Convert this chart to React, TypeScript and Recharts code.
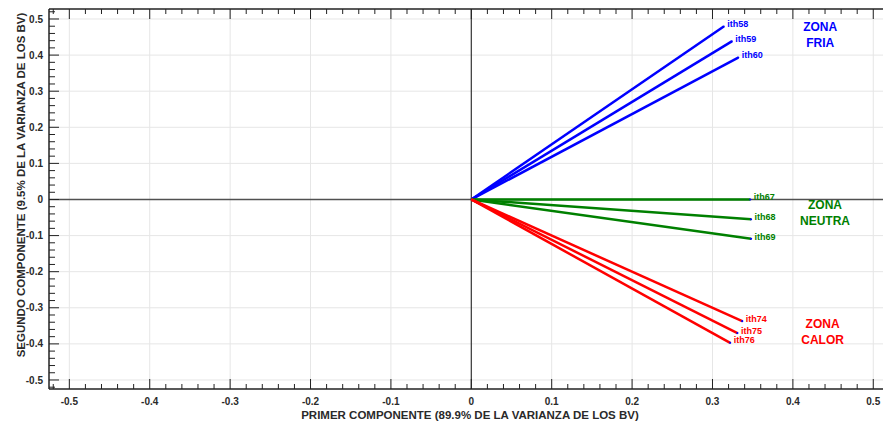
import React from "react";
import {
  ComposedChart,
  Line,
  Scatter,
  XAxis,
  YAxis,
  ReferenceLine,
} from "recharts";

// ---- data ----
const vectorNames = ["ith58", "ith59", "ith60", "ith67", "ith68", "ith69", "ith74", "ith75", "ith76"];
const pc1 = [0.314, 0.324, 0.332, 0.347, 0.348, 0.348, 0.337, 0.331, 0.322];
const pc2 = [0.479, 0.438, 0.393, 0.0, -0.055, -0.109, -0.337, -0.37, -0.397];
const vectorZone = [0, 0, 0, 1, 1, 1, 2, 2, 2];

const zoneLine1 = ["ZONA", "ZONA", "ZONA"];
const zoneLine2 = ["FRIA", "NEUTRA", "CALOR"];
const zoneX = [0.434, 0.44, 0.437];
const zoneY = [0.456, -0.035, -0.365];
const zoneColors = ["#0000FF", "#008000", "#FF0000"];

const majorTicks = [-0.5, -0.4, -0.3, -0.2, -0.1, 0, 0.1, 0.2, 0.3, 0.4, 0.5];
const xMinorTicks: number[] = [];
for (let i = -26; i <= 25; i++) xMinorTicks.push(Math.round(i * 2) / 100);
const yMinorTicks: number[] = [];
for (let i = -26; i <= 26; i++) yMinorTicks.push(Math.round(i * 2) / 100);

const xTitle = "PRIMER COMPONENTE (89.9% DE LA VARIANZA DE LOS BV)";
const yTitle = "SEGUNDO COMPONENTE (9.5% DE LA VARIANZA DE LOS BV)";

const FONT = "'Liberation Sans', Arial, Helvetica, sans-serif";
const AXIS = "#222";

const isMajor = (v: number) => Math.abs(v * 10 - Math.round(v * 10)) < 1e-6;
const fmt = (v: number) => (Math.abs(v) < 1e-9 ? "0" : v.toFixed(1));

const BottomTick = (p: any) => {
  const { x, y, payload } = p;
  const v = payload.value;
  const major = isMajor(v);
  return (
    <g>
      <line x1={x} x2={x} y1={y} y2={y - (major ? 10 : 5)} stroke={AXIS} strokeWidth={1} />
      {major && (
        <text x={x} y={y + 15.5} textAnchor="middle" fontSize={10} fontWeight="bold" fontFamily={FONT} fill="#2a2a2a">
          {fmt(v)}
        </text>
      )}
    </g>
  );
};

const TopTick = (p: any) => {
  const { x, y, payload } = p;
  const v = payload.value;
  const major = isMajor(v);
  return <line x1={x} x2={x} y1={y} y2={y + (major ? 10 : 5)} stroke={AXIS} strokeWidth={1} />;
};

const LeftTick = (p: any) => {
  const { x, y, payload } = p;
  const v = payload.value;
  const major = isMajor(v);
  return (
    <g>
      <line x1={x} x2={x + (major ? 10 : 6)} y1={y} y2={y} stroke={AXIS} strokeWidth={1} />
      {major && (
        <text x={x - 6} y={y + 3.6} textAnchor="end" fontSize={10} fontWeight="bold" fontFamily={FONT} fill="#2a2a2a">
          {fmt(v)}
        </text>
      )}
    </g>
  );
};

const makeDot = (name: string, color: string) => (props: any) => {
  const { cx, cy, index } = props;
  if (index !== 1 || cx == null) return <g key={`d${index}`} />;
  return (
    <g key={`d${index}`}>
      <circle cx={cx} cy={cy} r={1.1} fill="#0000FF" />
      <text x={cx + 3.5} y={cy + 0.7} fontSize={9} fontWeight="bold" fontFamily={FONT} fill={color}>
        {name}
      </text>
    </g>
  );
};

const ZoneShape = (props: any) => {
  const { cx, cy, payload } = props;
  return (
    <g>
      <text x={cx} y={cy - 3.5} textAnchor="middle" fontSize={12} fontWeight="bold" fontFamily={FONT} fill={payload.color}>
        {payload.l1}
      </text>
      <text x={cx} y={cy + 12.5} textAnchor="middle" fontSize={12} fontWeight="bold" fontFamily={FONT} fill={payload.color}>
        {payload.l2}
      </text>
    </g>
  );
};

const zoneData = zoneLine1.map((l1, i) => ({ x: zoneX[i], y: zoneY[i], l1, l2: zoneLine2[i], color: zoneColors[i] }));

export default function App() {
  return (
    <div style={{ position: "absolute", left: 0, top: 0, width: 883, height: 423, background: "#fff" }}>
      <ComposedChart width={883} height={423} margin={{ top: 0, right: 0, bottom: 0, left: 0 }}>
        <XAxis
          xAxisId="b"
          type="number"
          dataKey="x"
          orientation="bottom"
          domain={[-0.5253, 0.5121]}
          allowDataOverflow
          ticks={xMinorTicks}
          interval={0}
          tickSize={0}
          tickMargin={0}
          tick={<BottomTick />}
          height={34}
          axisLine={{ stroke: AXIS, strokeWidth: 1.5 }}
          label={(lp: any) => {
            const vb = lp.viewBox || {};
            return (
              <text
                x={vb.x + vb.width / 2 + 4}
                y={vb.y + 29.5}
                textAnchor="middle"
                fontSize={11.5}
                fontWeight="bold"
                fontFamily={FONT}
                fill="#2a2a2a"
              >
                {xTitle}
              </text>
            );
          }}
        />
        <XAxis
          xAxisId="t"
          type="number"
          dataKey="x"
          orientation="top"
          domain={[-0.5253, 0.5121]}
          allowDataOverflow
          ticks={xMinorTicks}
          interval={0}
          tickSize={0}
          tickMargin={0}
          tick={<TopTick />}
          height={9}
          axisLine={{ stroke: AXIS, strokeWidth: 1.5 }}
        />
        <YAxis
          yAxisId="l"
          type="number"
          dataKey="y"
          domain={[-0.525, 0.5277]}
          allowDataOverflow
          ticks={yMinorTicks}
          interval={0}
          tickSize={0}
          tickMargin={0}
          tick={<LeftTick />}
          width={49}
          axisLine={{ stroke: AXIS, strokeWidth: 1.5 }}
          label={() => {
            const cx = 25;
            const cy = 185;
            return (
              <text
                x={cx}
                y={cy}
                transform={`rotate(-90, ${cx}, ${cy})`}
                textAnchor="middle"
                fontSize={11.5}
                fontWeight="bold"
                fontFamily={FONT}
                fill="#2a2a2a"
              >
                {yTitle}
              </text>
            );
          }}
        />
        {majorTicks
          .filter((v) => v !== 0)
          .map((v) => (
            <ReferenceLine key={`gx${v}`} xAxisId="b" yAxisId="l" x={v} stroke="#e6e6e6" strokeWidth={1} />
          ))}
        {majorTicks
          .filter((v) => v !== 0)
          .map((v) => (
            <ReferenceLine key={`gy${v}`} xAxisId="b" yAxisId="l" y={v} stroke="#e6e6e6" strokeWidth={1} />
          ))}
        <ReferenceLine xAxisId="b" yAxisId="l" y={0} stroke="#505050" strokeWidth={1.6} />
        <ReferenceLine xAxisId="b" yAxisId="l" x={0} stroke="#333" strokeWidth={1.2} />
        {vectorNames.map((name, i) => {
          const color = zoneColors[vectorZone[i]];
          return (
            <Line
              key={name}
              xAxisId="b"
              yAxisId="l"
              data={[
                { x: 0, y: 0 },
                { x: pc1[i], y: pc2[i] },
              ]}
              dataKey="y"
              stroke={color}
              strokeWidth={2.5}
              dot={makeDot(name, color)}
              activeDot={false}
              isAnimationActive={false}
              type="linear"
            />
          );
        })}
        <Scatter
          xAxisId="b"
          yAxisId="l"
          data={zoneData}
          dataKey="y"
          shape={<ZoneShape />}
          isAnimationActive={false}
        />
      </ComposedChart>
    </div>
  );
}
